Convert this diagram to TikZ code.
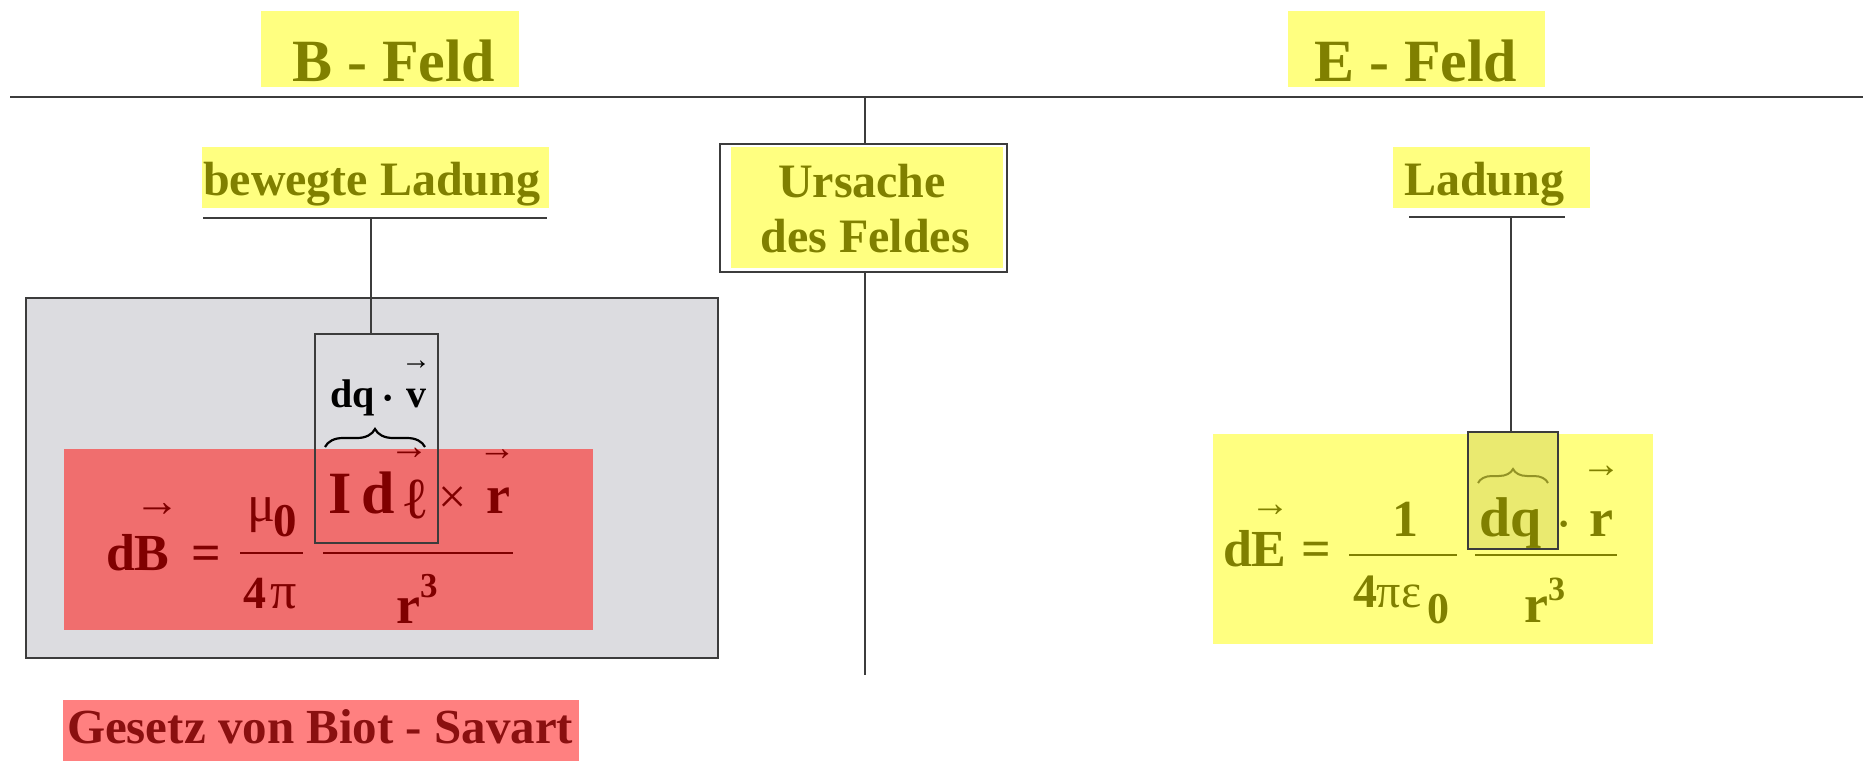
\documentclass[tikz,border=0pt]{standalone}
\usepackage{fontspec}
\setmainfont{Liberation Serif}
\usetikzlibrary{decorations.pathreplacing}

\definecolor{hiyellow}{HTML}{FFFF80}
\definecolor{olivetext}{HTML}{808000}
\definecolor{darkred}{HTML}{800000}
\definecolor{lawred}{HTML}{8A1010}
\definecolor{boxgray}{HTML}{DCDCE0}
\definecolor{redfill}{HTML}{F06E6E}
\definecolor{labelred}{HTML}{FF8080}
\definecolor{rulegray}{HTML}{3C3C3C}
\definecolor{dqfill}{HTML}{EAEA70}

\newcommand{\fsz}[1]{\fontsize{#1}{#1}\selectfont}

\begin{document}
\begin{tikzpicture}[x=1pt,y=-1pt,
  glyph/.style={inner sep=0pt, outer sep=0pt, anchor=base west},
  centred/.style={inner sep=0pt, outer sep=0pt, anchor=base},
  vecarrow/.style={inner sep=0pt, outer sep=0pt, anchor=center},
  panel/.style={inner sep=0pt, outer sep=0pt, anchor=north west},
  fracbar/.style={line width=2pt},
  ruleline/.style={draw=rulegray, line width=2pt},
  framebox/.style={panel, draw=rulegray, line width=1.6pt},
  curly/.style={decorate, decoration={brace, amplitude=#1}, line width=2.2pt},
]
\useasboundingbox (0,0) rectangle (1863,762);

% ---------- headings ----------
\node[panel, fill=hiyellow, minimum width=258pt, minimum height=76pt] (bhead) at (261,11) {};
\node[glyph, text=olivetext, font=\fsz{60}\bfseries] (btitle) at (292,82) {B - Feld};
\node[panel, fill=hiyellow, minimum width=257pt, minimum height=76pt] (ehead) at (1288,11) {};
\node[glyph, text=olivetext, font=\fsz{60}\bfseries] (etitle) at (1314,82) {E - Feld};

\coordinate (ruleL) at (10,97);
\coordinate (ruleR) at (1863,97);
\coordinate (ruleM) at (865,97);
\coordinate (axisEnd) at (865,675);
\draw[ruleline] (ruleL) -- (ruleR);

% ---------- cause of the field ----------
\node[framebox, minimum width=287pt, minimum height=128pt] (cause) at (720,144) {};
\node[panel, fill=hiyellow, minimum width=272pt, minimum height=121pt] (causefill) at (731,147) {};
\node[centred, text=olivetext, font=\fsz{48}\bfseries] (causeA) at (862,198) {Ursache};
\node[centred, text=olivetext, font=\fsz{48}\bfseries] (causeB) at (865,252) {des Feldes};
\draw[ruleline] (ruleM) -- (ruleM |- cause.north);
\draw[ruleline] (axisEnd |- cause.south) -- (axisEnd);

% ---------- B side ----------
\node[panel, fill=hiyellow, minimum width=347pt, minimum height=61pt] (movfill) at (202,147) {};
\node[glyph, text=olivetext, font=\fsz{48}\bfseries] (movtext) at (203,196) {bewegte Ladung};
\coordinate (movL) at (203,218);
\coordinate (movR) at (547,218);
\coordinate (movC) at (371,218);
\draw[ruleline] (movL) -- (movR);

\node[panel, fill=boxgray, draw=rulegray, line width=2pt, minimum width=692pt, minimum height=360pt] (bpanel) at (26,298) {};
\node[panel, fill=redfill, minimum width=529pt, minimum height=181pt] (bred) at (64,449) {};

% dB = mu0/(4 pi) (I dl x r)/r^3
\begin{scope}[every node/.append style={text=darkred}]
\node[glyph, font=\fsz{52}\bfseries] (bdB) at (106,570) {dB};
\node[vecarrow, font=\fsz{46}] (bdBarr) at (157,510) {→};
\node[glyph, font=\fsz{52}\bfseries] (beq) at (191,570) {=};
\node[glyph, font=\fsz{52}] (bmu) at (247,521) {μ};
\node[glyph, font=\fsz{47}\bfseries] (bmu0) at (273,536) {0};
\node[glyph, font=\fsz{46}\bfseries] (bfour) at (243,608) {4};
\node[glyph, font=\fsz{52}] (bpi) at (270,608) {π};
\node[glyph, font=\fsz{60}\bfseries] (bI) at (328,513) {I};
\node[glyph, font=\fsz{60}\bfseries] (bd) at (361,513) {d};
\node[glyph, font=\fsz{58}] (bell) at (401,518) {ℓ};
\node[vecarrow, font=\fsz{40}] (bellarr) at (409,454) {→};
\node[glyph, font=\fsz{50}] (btimes) at (438,513) {×};
\node[glyph, font=\fsz{54}\bfseries] (br) at (486,513) {r};
\node[vecarrow, font=\fsz{38}] (brarr) at (497,455) {→};
\node[glyph, font=\fsz{54}\bfseries] (brden) at (396,623) {r};
\node[glyph, font=\fsz{35}\bfseries] (bthree) at (420,597) {3};
\end{scope}
\draw[fracbar, darkred] (240,553) -- (303,553);
\draw[fracbar, darkred] (323,553) -- (513,553);

% dq * v over the current element
\draw[curly=18pt, black] (325,447) -- (425,447);
\node[glyph, font=\fsz{40}\bfseries] (vdq) at (330,407) {dq};
\node[glyph, font=\fsz{40}\bfseries] (vdot) at (381,411) {·};
\node[glyph, font=\fsz{40}\bfseries] (vv) at (406,407) {v};
\node[vecarrow, font=\fsz{30}] (vvarr) at (416,365) {→};

\node[framebox, minimum width=123pt, minimum height=209pt] (srcbox) at (315,334) {};
\draw[ruleline] (movC) -- (movC |- srcbox.north);

% law label
\node[panel, fill=labelred, minimum width=516pt, minimum height=61pt] (lawfill) at (63,700) {};
\node[glyph, text=lawred, font=\fsz{49}\bfseries] (lawtext) at (67,743) {Gesetz von Biot - Savart};

% ---------- E side ----------
\node[panel, fill=hiyellow, minimum width=197pt, minimum height=61pt] (chgfill) at (1393,147) {};
\node[glyph, text=olivetext, font=\fsz{48}\bfseries] (chgtext) at (1404,196) {Ladung};
\coordinate (chgL) at (1409,217);
\coordinate (chgR) at (1565,217);
\coordinate (chgC) at (1511,217);
\draw[ruleline] (chgL) -- (chgR);

\node[panel, fill=hiyellow, minimum width=440pt, minimum height=210pt] (efill) at (1213,434) {};
\node[framebox, fill=dqfill, minimum width=90pt, minimum height=117pt] (dqbox) at (1468,432) {};
\draw[ruleline] (chgC) -- (chgC |- dqbox.north);

% dE = 1/(4 pi eps0) dq r / r^3
\begin{scope}[every node/.append style={text=olivetext}]
\node[glyph, font=\fsz{52}\bfseries] (edE) at (1223,566) {dE};
\node[vecarrow, font=\fsz{40}] (edEarr) at (1270,511) {→};
\node[glyph, font=\fsz{52}\bfseries] (eeq) at (1301,566) {=};
\node[glyph, font=\fsz{52}\bfseries] (eone) at (1392,536) {1};
\node[glyph, font=\fsz{48}\bfseries] (efour) at (1353,607) {4};
\node[glyph, font=\fsz{48}] (epi) at (1376,607) {π};
\node[glyph, font=\fsz{48}] (eeps) at (1401,607) {ε};
\node[glyph, font=\fsz{44}\bfseries] (ezero) at (1427,623) {0};
\node[glyph, font=\fsz{56}\bfseries] (edq) at (1479,536) {dq};
\node[glyph, font=\fsz{40}\bfseries] (edot) at (1557,537) {·};
\node[glyph, font=\fsz{54}\bfseries] (er) at (1589,536) {r};
\node[vecarrow, font=\fsz{40}] (erarr) at (1601,472) {→};
\node[glyph, font=\fsz{54}\bfseries] (erden) at (1524,622) {r};
\node[glyph, font=\fsz{34}\bfseries] (ethree) at (1548,600) {3};
\end{scope}
\draw[fracbar, olivetext] (1349,555) -- (1457,555);
\draw[fracbar, olivetext] (1475,555) -- (1617,555);
\draw[curly=14pt, olivetext!85!white, line width=2pt] (1478,483) -- (1548,483);

\end{tikzpicture}
\end{document}
